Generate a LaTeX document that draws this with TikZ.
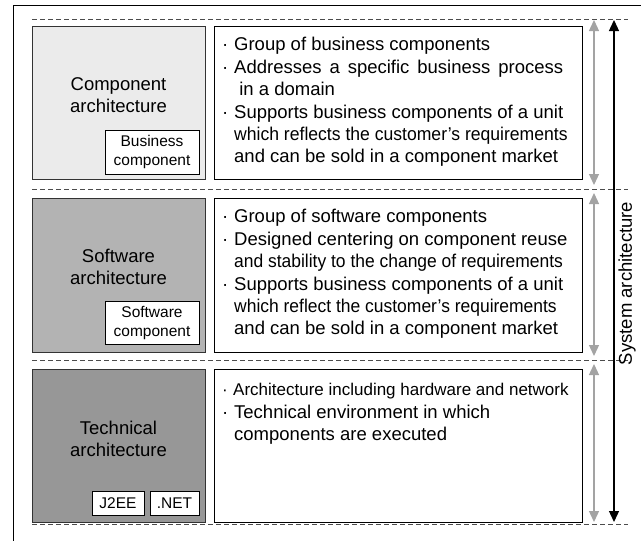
\documentclass[tikz,border=0pt]{standalone}
\usepackage{graphicx}
\usepackage{fontspec}
\setmainfont{Liberation Sans}
\usetikzlibrary{positioning,arrows.meta}

\definecolor{compfill}{HTML}{EBEBEB}
\definecolor{softfill}{HTML}{B3B3B3}
\definecolor{techfill}{HTML}{979797}
\definecolor{arcgray}{HTML}{A3A3A3}
\newcommand{\bul}{\makebox[12pt][l]{\textperiodcentered}}
\newcommand{\cont}{\hspace*{12pt}}
\newcommand{\squeeze}[2][0.95]{\scalebox{#1}[1]{#2}}

\begin{document}
\begin{tikzpicture}
    [x=1pt, y=-1pt,
      layer/.style={draw=black!80, line width=0.8pt, minimum width=173pt, minimum height=153pt, inner sep=0pt},
      desc/.style={draw=black, line width=0.8pt, fill=white, minimum width=368pt, minimum height=153pt, inner sep=0pt},
      txt/.style={anchor=north west, inner sep=0pt, align=left, font=\fontsize{18.5}{22}\selectfont},
      lbl/.style={align=center, inner sep=0pt, font=\fontsize{18.5}{21.5}\selectfont},
      comp/.style={draw=black, line width=0.8pt, fill=white, align=center, inner sep=0pt, font=\fontsize{15.5}{19}\selectfont},
      sep/.style={draw=black!70, line width=0.8pt, dash pattern=on 5pt off 3pt},
      garc/.style={{Triangle[width=10pt,length=11pt]}-{Triangle[width=10pt,length=11pt]}, draw=arcgray, fill=arcgray, line width=1.3pt},
      barc/.style={{Triangle[width=10pt,length=11pt]}-{Triangle[width=10pt,length=11pt]}, draw=black, fill=black, line width=1.3pt}]

    \useasboundingbox (0,0) rectangle (641,541);
    \clip (0,0) rectangle (641,541);
    \draw[line width=0.9pt] (13,5) rectangle (660,560);

    % separators
    \draw[sep] (32,19) -- (628,19);
    \draw[sep] (32,189) -- (628,189);
    \draw[sep] (32,360) -- (628,360);
    \draw[sep] (32,524) -- (628,524);

    % component layer
    \node (ca) at (118.5,102.5) [layer, fill=compfill] {};
    \node (cal) at (118.5,95) [lbl] {Component\\architecture};
    \node (bc) at (152,152) [comp, minimum width=94pt, minimum height=44pt] {Business\\component};
    \node (cd) at (398,102.5) [desc] {};
    \node (cdt) at (222,37) [txt] {\bul Group of business components\\[1pt]
      \bul\makebox[329pt][s]{Addresses a specific business process}\\
      \cont\ in a domain\\[1pt]
      \bul Supports business components of a unit\\
      \cont\squeeze{which reflects the customer’s requirements}\\
      \cont and can be sold in a component market};

    % software layer
    \node (sa) at (118.5,275) [layer, fill=softfill, minimum height=154pt] {};
    \node (sal) at (118.5,267) [lbl] {Software\\architecture};
    \node (sc) at (152,322.5) [comp, minimum width=94pt, minimum height=43pt] {Software\\component};
    \node (sd) at (398,275) [desc, minimum height=154pt] {};
    \node (sdt) at (222,209) [txt] {\bul Group of software components\\[1pt]
      \bul Designed centering on component reuse\\
      \cont\squeeze[0.943]{and stability to the change of requirements}\\[1pt]
      \bul Supports business components of a unit\\
      \cont\squeeze[0.944]{which reflect the customer’s requirements}\\
      \cont and can be sold in a component market};

    % technical layer
    \node (ta) at (118.5,445.5) [layer, fill=techfill] {};
    \node (tal) at (118.5,439) [lbl] {Technical\\architecture};
    \node (j2ee) at (118,503) [comp, minimum width=52pt, minimum height=24pt] {J2EE};
    \node (net) at (174.5,503) [comp, minimum width=49pt, minimum height=24pt] {.NET};
    \node (td) at (398,445.5) [desc] {};
    \node (tdt) at (222,383) [txt] {{\fontsize{17}{22}\selectfont\makebox[11pt][l]{\textperiodcentered}Architecture including hardware and network}\\[1pt]
      \bul Technical environment in which\\
      \cont components are executed};

    % arrows
    \coordinate (g1a) at (594,20);
    \coordinate (g1b) at (594,185);
    \coordinate (g2a) at (594,193);
    \coordinate (g2b) at (594,356);
    \coordinate (g3a) at (594,364);
    \coordinate (g3b) at (594,522);
    \coordinate (sysa) at (614,20);
    \coordinate (sysb) at (614,522);
    \draw[garc] (g1a) -- (g1b);
    \draw[garc] (g2a) -- (g2b);
    \draw[garc] (g3a) -- (g3b);
    \draw[barc] (sysa) -- (sysb);
    \node (sys) at (627,283.5) [rotate=90, inner sep=0pt, font=\fontsize{18.5}{22}\selectfont] {System architecture};
  \end{tikzpicture}
\end{document}
